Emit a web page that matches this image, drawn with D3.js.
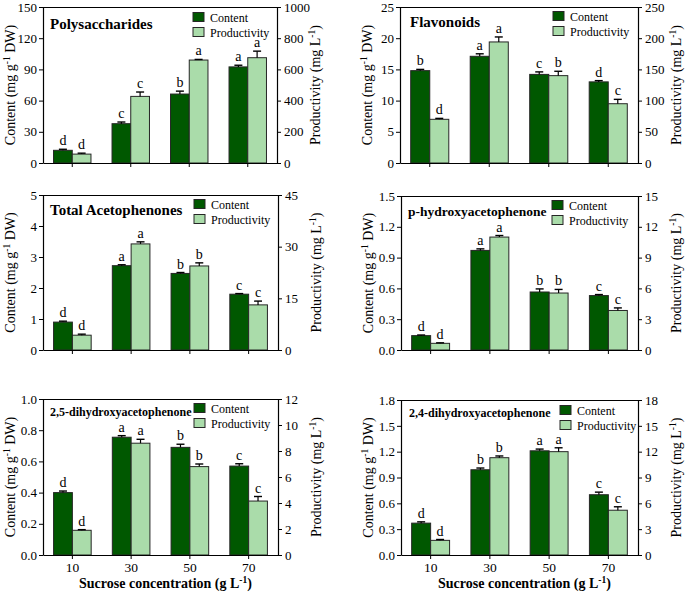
<!DOCTYPE html>
<html>
<head>
<meta charset="utf-8">
<script src="https://cdn.jsdelivr.net/npm/d3@7"></script>
<style>
  html, body { margin: 0; padding: 0; background: #fff; }
  svg { display: block; }
  svg text { font-family: "Liberation Serif", "Times New Roman", "DejaVu Serif", serif !important; fill: #000; }
</style>
</head>
<body>
<svg id="chart" width="685" height="595" font-family="Liberation Serif, serif"></svg>
<script>
// ---------- data ----------
const categories = ["10", "30", "50", "70"];
const seriesNames = ["Content", "Productivity"];

const polyContent = [12.2, 37.8, 66.3, 92.4];
const polyContentErr = [1.0, 1.6, 2.8, 1.6];
const polyProd = [57, 427, 660, 675];
const polyProdErr = [6, 28, 4, 42];
const polyLettersC = ["d", "c", "b", "a"];
const polyLettersP = ["d", "c", "a", "a"];

const flavContent = [14.8, 17.1, 14.2, 13.0];
const flavContentErr = [0.2, 0.4, 0.4, 0.2];
const flavProd = [70, 194, 140, 95];
const flavProdErr = [1.5, 8, 7, 7];
const flavLettersC = ["b", "a", "c", "d"];
const flavLettersP = ["d", "a", "b", "c"];

const totContent = [0.90, 2.72, 2.47, 1.80];
const totContentErr = [0.03, 0.03, 0.03, 0.02];
const totProd = [4.3, 30.8, 24.4, 13.1];
const totProdErr = [0.3, 0.6, 0.9, 1.1];
const totLettersC = ["d", "a", "b", "c"];
const totLettersP = ["d", "a", "b", "c"];

const phContent = [0.14, 0.97, 0.565, 0.53];
const phContentErr = [0.006, 0.015, 0.03, 0.01];
const phProd = [0.65, 11.0, 5.55, 3.85];
const phProdErr = [0.05, 0.15, 0.35, 0.25];
const phLettersC = ["d", "a", "b", "c"];
const phLettersP = ["d", "a", "b", "c"];

const d25Content = [0.40, 0.755, 0.69, 0.57];
const d25ContentErr = [0.01, 0.01, 0.02, 0.015];
const d25Prod = [1.9, 8.6, 6.8, 4.15];
const d25ProdErr = [0.05, 0.3, 0.2, 0.35];
const d25LettersC = ["d", "a", "b", "c"];
const d25LettersP = ["d", "a", "b", "c"];

const d24Content = [0.37, 0.99, 1.21, 0.70];
const d24ContentErr = [0.015, 0.02, 0.02, 0.03];
const d24Prod = [1.7, 11.3, 12.0, 5.2];
const d24ProdErr = [0.1, 0.2, 0.45, 0.4];
const d24LettersC = ["d", "b", "a", "c"];
const d24LettersP = ["d", "b", "a", "c"];

const leftTicks1 = [0, 30, 60, 90, 120, 150];
const rightTicks1 = [0, 200, 400, 600, 800, 1000];
const leftTicks2 = [0, 5, 10, 15, 20, 25];
const rightTicks2 = [0, 50, 100, 150, 200, 250];
const leftTicks3 = [0, 1, 2, 3, 4, 5];
const rightTicks3 = [0, 15, 30, 45];
const leftTicks4 = [0, 0.3, 0.6, 0.9, 1.2, 1.5];
const rightTicks4 = [0, 3, 6, 9, 12, 15];
const leftTicks5 = [0, 0.2, 0.4, 0.6, 0.8, 1.0];
const rightTicks5 = [0, 2, 4, 6, 8, 10, 12];
const leftTicks6 = [0, 0.3, 0.6, 0.9, 1.2, 1.5, 1.8];
const rightTicks6 = [0, 3, 6, 9, 12, 15, 18];

// ---------- layout ----------
const FONT = "Liberation Serif";
const COL_C = "#005800";
const COL_P = "#aadcaa";
const STROKE = "#262626";

const panels = [
  { title: "Polysaccharides", tsize: 15, c: polyContent, ce: polyContentErr, p: polyProd, pe: polyProdErr, lc: polyLettersC, lp: polyLettersP,
    lt: leftTicks1, rt: rightTicks1, lfmt: d3.format("d"),
    x0: 43, x1: 277, top: 7, bottom: 163, tdx: 7, tdy: 22, ldx: 150, ldy: 10, xlab: false },
  { title: "Flavonoids", tsize: 15, c: flavContent, ce: flavContentErr, p: flavProd, pe: flavProdErr, lc: flavLettersC, lp: flavLettersP,
    lt: leftTicks2, rt: rightTicks2, lfmt: d3.format("d"),
    x0: 400, x1: 638, top: 7, bottom: 163, tdx: 10, tdy: 20, ldx: 153, ldy: 9, xlab: false },
  { title: "Total Acetophenones", tsize: 15, c: totContent, ce: totContentErr, p: totProd, pe: totProdErr, lc: totLettersC, lp: totLettersP,
    lt: leftTicks3, rt: rightTicks3, lfmt: d3.format("d"),
    x0: 43, x1: 278, top: 195, bottom: 350, tdx: 7, tdy: 20, ldx: 151, ldy: 9, xlab: false },
  { title: "p-hydroxyacetophenone", tsize: 13.5, c: phContent, ce: phContentErr, p: phProd, pe: phProdErr, lc: phLettersC, lp: phLettersP,
    lt: leftTicks4, rt: rightTicks4, lfmt: d3.format(".1f"),
    x0: 401, x1: 638, top: 196, bottom: 350, tdx: 7, tdy: 20, ldx: 151, ldy: 9, xlab: false },
  { title: "2,5-dihydroxyacetophenone", tsize: 12, c: d25Content, ce: d25ContentErr, p: d25Prod, pe: d25ProdErr, lc: d25LettersC, lp: d25LettersP,
    lt: leftTicks5, rt: rightTicks5, lfmt: d3.format(".1f"),
    x0: 43, x1: 278, top: 399, bottom: 555, tdx: 7, tdy: 17, ldx: 151, ldy: 9, xlab: true },
  { title: "2,4-dihydroxyacetophenone", tsize: 12, c: d24Content, ce: d24ContentErr, p: d24Prod, pe: d24ProdErr, lc: d24LettersC, lp: d24LettersP,
    lt: leftTicks6, rt: rightTicks6, lfmt: d3.format(".1f"),
    x0: 401, x1: 638, top: 400, bottom: 555, tdx: 8, tdy: 17, ldx: 159, ldy: 10, xlab: true }
];

const svg = d3.select("#chart");

function supText(sel, before, sup, after, size) {
  sel.append("tspan").text(before);
  sel.append("tspan").attr("dy", -5).attr("font-size", size * 0.68).text(sup);
  sel.append("tspan").attr("dy", 5).text(after);
}

panels.forEach(P => {
  const g = svg.append("g").attr("font-family", FONT);
  const x = d3.scaleBand().domain(categories).range([P.x0, P.x1]).paddingInner(0.36).paddingOuter(0.18);
  const xs = d3.scaleBand().domain(seriesNames).range([0, x.bandwidth()]);
  const yL = d3.scaleLinear().domain([0, d3.max(P.lt)]).range([P.bottom, P.top]);
  const yR = d3.scaleLinear().domain([0, d3.max(P.rt)]).range([P.bottom, P.top]);

  const rows = categories.map((cat, i) => [
    { cat, s: "Content", v: P.c[i], e: P.ce[i], l: P.lc[i], y: yL, fill: COL_C },
    { cat, s: "Productivity", v: P.p[i], e: P.pe[i], l: P.lp[i], y: yR, fill: COL_P }
  ]).flat();

  g.selectAll("rect.bar").data(rows).join("rect")
    .attr("class", "bar")
    .attr("x", d => x(d.cat) + xs(d.s))
    .attr("width", xs.bandwidth())
    .attr("y", d => d.y(d.v))
    .attr("height", d => P.bottom - d.y(d.v))
    .attr("fill", d => d.fill)
    .attr("stroke", STROKE).attr("stroke-width", 1);

  const eb = g.selectAll("g.err").data(rows).join("g").attr("class", "err");
  eb.append("line")
    .attr("x1", d => x(d.cat) + xs(d.s) + xs.bandwidth() / 2)
    .attr("x2", d => x(d.cat) + xs(d.s) + xs.bandwidth() / 2)
    .attr("y1", d => d.y(d.v))
    .attr("y2", d => d.y(d.v + d.e))
    .attr("stroke", "#000").attr("stroke-width", 1.2);
  eb.append("line")
    .attr("x1", d => x(d.cat) + xs(d.s) + xs.bandwidth() / 2 - 4)
    .attr("x2", d => x(d.cat) + xs(d.s) + xs.bandwidth() / 2 + 4)
    .attr("y1", d => d.y(d.v + d.e))
    .attr("y2", d => d.y(d.v + d.e))
    .attr("stroke", "#000").attr("stroke-width", 1.4);
  g.selectAll("text.let").data(rows).join("text")
    .attr("class", "let")
    .attr("x", d => x(d.cat) + xs(d.s) + xs.bandwidth() / 2)
    .attr("y", d => d.y(d.v + d.e) - 4)
    .attr("text-anchor", "middle")
    .attr("font-size", 14)
    .text(d => d.l);

  g.append("line").attr("x1", P.x0).attr("x2", P.x1).attr("y1", P.top + 0.5).attr("y2", P.top + 0.5)
    .attr("stroke", "#000").attr("stroke-width", 1);

  const axL = g.append("g").attr("transform", `translate(${P.x0},0)`)
    .call(d3.axisLeft(yL).tickValues(P.lt).tickFormat(P.lfmt).tickSize(4).tickSizeOuter(0).tickPadding(2));
  const axR = g.append("g").attr("transform", `translate(${P.x1},0)`)
    .call(d3.axisRight(yR).tickValues(P.rt).tickFormat(d3.format("d")).tickSize(4).tickSizeOuter(0).tickPadding(3));
  const axB = g.append("g").attr("transform", `translate(0,${P.bottom})`)
    .call(d3.axisBottom(x).tickSize(4).tickSizeOuter(0).tickPadding(3).tickFormat(P.xlab ? (d => d) : () => ""));
  [axL, axR, axB].forEach(a => {
    a.attr("font-family", FONT).attr("font-size", 13);
    a.selectAll("path.domain").attr("stroke", "#000").attr("stroke-width", 1.2);
    a.selectAll(".tick line").attr("stroke", "#000");
    a.selectAll(".tick text").attr("font-family", FONT).attr("font-size", 13).attr("fill", "#000");
  });
  axB.selectAll(".tick text").attr("font-size", 13.5);

  const cy = (P.top + P.bottom) / 2;
  const lt = g.append("text")
    .attr("transform", `translate(${P.x0 - 28},${cy}) rotate(-90)`)
    .attr("text-anchor", "middle").attr("font-size", 14);
  supText(lt, "Content (mg g", "-1", " DW)", 14);
  const rtt = g.append("text")
    .attr("transform", `translate(${P.x1 + 43},${cy}) rotate(-90)`)
    .attr("text-anchor", "middle").attr("font-size", 14);
  supText(rtt, "Productivity (mg L", "-1", ")", 14);

  if (P.xlab) {
    const xt = g.append("text")
      .attr("x", (P.x0 + P.x1) / 2 + 5).attr("y", 588)
      .attr("text-anchor", "middle").attr("font-size", 14).attr("font-weight", "bold");
    supText(xt, "Sucrose concentration (g L", "-1", ")", 14);
  }

  g.append("text").attr("x", P.x0 + P.tdx).attr("y", P.top + P.tdy)
    .attr("font-size", P.tsize).attr("font-weight", "bold").text(P.title);

  const lg = g.append("g").attr("transform", `translate(${P.x0 + P.ldx},${P.top + P.ldy})`);
  [{ n: "Content", f: COL_C }, { n: "Productivity", f: COL_P }].forEach((s, i) => {
    lg.append("rect").attr("x", 0).attr("y", i * 15 - 4.5).attr("width", 11).attr("height", 9)
      .attr("fill", s.f).attr("stroke", STROKE).attr("stroke-width", 1);
    lg.append("text").attr("x", 17).attr("y", i * 15 + 4.5).attr("font-size", 12).text(s.n);
  });
});
</script>
</body>
</html>
